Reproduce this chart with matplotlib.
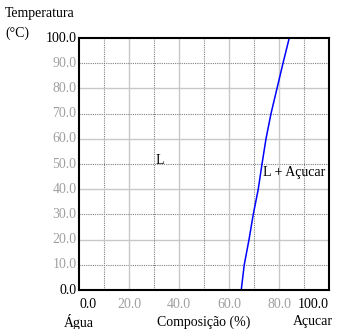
import matplotlib
matplotlib.use("Agg")
import matplotlib.pyplot as plt

# temperatura (C) e composicao (%) da curva de solubilidade
temp = [0, 10, 20, 30, 40, 50, 60, 70, 80, 90, 100]
comp = [64.9, 66.1, 68.0, 69.7, 71.7, 73.2, 74.8, 76.8, 79.2, 81.6, 84.1]

xticks = [0, 20, 40, 60, 80, 100]
yticks = [0, 10, 20, 30, 40, 50, 60, 70, 80, 90, 100]

plt.rcParams['font.family'] = ['Liberation Serif', 'DejaVu Serif']
fs = 10

fig = plt.figure(figsize=(3.4, 3.29), dpi=100)
W, H = 340, 329
ax = fig.add_axes([79 / W, 1 - 290 / H, 250 / W, 252 / H])
ax.set_xlim(0, 100)
ax.set_ylim(0, 100)

# grelha: multiplos de 20 linha clara, os outros pontilhado
for v in range(10, 100, 10):
    if v % 20 == 0:
        ax.axvline(v, color='#c8c8c8', lw=1, zorder=0)
        ax.axhline(v, color='#c8c8c8', lw=1, zorder=0)
    else:
        ax.axvline(v, color='#808080', lw=0.8, ls=(0, (1, 1)), zorder=0)
        ax.axhline(v, color='#808080', lw=0.8, ls=(0, (1, 1)), zorder=0)

ax.plot(comp, temp, color='blue', lw=1.1)

ax.set_xticks([])
ax.set_yticks([])
for s in ax.spines.values():
    s.set_linewidth(1.5)
    s.set_color('black')

# rotulos do eixo y
for t in yticks:
    c = 'black' if t in (0, 100) else '#a0a0a0'
    ax.text(-1, t, f"{t:.1f}", ha='right', va='center', fontsize=fs, color=c,
            clip_on=False)

# rotulos do eixo x
for t in xticks:
    c = 'black' if t in (0, 100) else '#a0a0a0'
    ha = 'left' if t == 0 else ('right' if t == 100 else 'center')
    ax.text(t, -3.3, f"{t:.1f}", ha=ha, va='top', fontsize=fs, color=c,
            clip_on=False)

ax.text(30.8, 51.5, "L", fontsize=fs, ha='left', va='center')
ax.text(73.5, 46.5, "L + Açucar", fontsize=fs, ha='left', va='center')

fig.text(5 / W, 1 - 14 / H, "Temperatura", fontsize=fs, ha='left', va='center')
fig.text(5 / W, 1 - 33 / H, "(°C)", fontsize=fs, ha='left', va='center')
fig.text(64 / W, 1 - 322 / H, "Água", fontsize=fs, ha='left', va='center')
fig.text(204 / W, 1 - 322 / H, "Composição (%)", fontsize=fs, ha='center', va='center')
fig.text(333 / W, 1 - 322 / H, "Açucar", fontsize=fs, ha='right', va='center')

fig.savefig("out.png", dpi=100)
